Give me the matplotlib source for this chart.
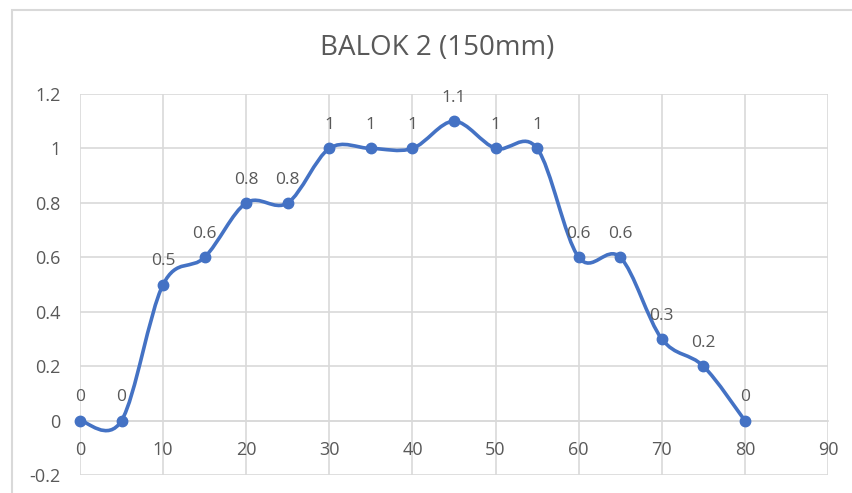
import matplotlib
matplotlib.use("Agg")
import matplotlib.pyplot as plt
from matplotlib.path import Path
from matplotlib.patches import PathPatch, Rectangle

plt.rcParams["font.family"] = ["Open Sans", "DejaVu Sans"]

title = "BALOK 2 (150mm)"
x_vals = [0, 5, 10, 15, 20, 25, 30, 35, 40, 45, 50, 55, 60, 65, 70, 75, 80]
y_vals = [0, 0, 0.5, 0.6, 0.8, 0.8, 1, 1, 1, 1.1, 1, 1, 0.6, 0.6, 0.3, 0.2, 0]
x_ticks = [0, 10, 20, 30, 40, 50, 60, 70, 80, 90]
y_ticks = [-0.2, 0, 0.2, 0.4, 0.6, 0.8, 1, 1.2]

BLUE = "#4472C4"
GRID = "#D9D9D9"
TEXT = "#595959"


def smooth_path(xs, ys, k=1 / 6):
    # Excel-like smoothed line: cubic bezier with catmull-rom tangents
    n = len(xs)
    verts = [(xs[0], ys[0])]
    codes = [Path.MOVETO]
    for i in range(n - 1):
        xp, yp = (xs[i - 1], ys[i - 1]) if i > 0 else (xs[i], ys[i])
        xn, yn = (xs[i + 2], ys[i + 2]) if i + 2 < n else (xs[i + 1], ys[i + 1])
        c1 = (xs[i] + (xs[i + 1] - xp) * k, ys[i] + (ys[i + 1] - yp) * k)
        c2 = (xs[i + 1] - (xn - xs[i]) * k, ys[i + 1] - (yn - ys[i]) * k)
        verts += [c1, c2, (xs[i + 1], ys[i + 1])]
        codes += [Path.CURVE4] * 3
    return Path(verts, codes)


fig = plt.figure(figsize=(8.53, 4.93), dpi=100)
fig.patches.append(Rectangle((12 / 853, -0.1), 1.2, 1 - 10 / 493 + 0.1,
                             transform=fig.transFigure, fill=False,
                             edgecolor=GRID, lw=1.5))
ax = fig.add_axes([80 / 853, 18 / 493, 748 / 853, 381 / 493])

ax.set_xlim(0, 90)
ax.set_ylim(-0.2, 1.2)
ax.set_xticks(x_ticks)
ax.set_yticks(y_ticks)
ax.set_yticklabels(["-0.2", "0", "0.2", "0.4", "0.6", "0.8", "1", "1.2"])
ax.grid(True, color=GRID, lw=1.2)
ax.set_axisbelow(True)
for s in ["top", "right", "left"]:
    ax.spines[s].set_visible(False)
ax.spines["bottom"].set_position(("data", 0))
ax.spines["bottom"].set_color(GRID)
ax.spines["bottom"].set_linewidth(1.2)
ax.tick_params(length=0, labelsize=13, colors=TEXT)
ax.tick_params(axis="x", pad=15)
ax.tick_params(axis="y", pad=14)

ax.add_patch(PathPatch(smooth_path(x_vals, y_vals), fill=False,
                       edgecolor=BLUE, lw=2.6, zorder=3))
ax.plot(x_vals, y_vals, "o", color=BLUE, ms=7.5, zorder=4, clip_on=False)

for xv, yv in zip(x_vals, y_vals):
    ax.annotate(f"{yv:g}", (xv, yv), xytext=(0, 11), textcoords="offset points",
                ha="center", va="bottom", fontsize=12.5, color=TEXT)

fig.text(437 / 853, 1 - 48 / 493, title, ha="center", va="center",
         fontsize=20, color=TEXT)

fig.savefig("out.png", dpi=100)
